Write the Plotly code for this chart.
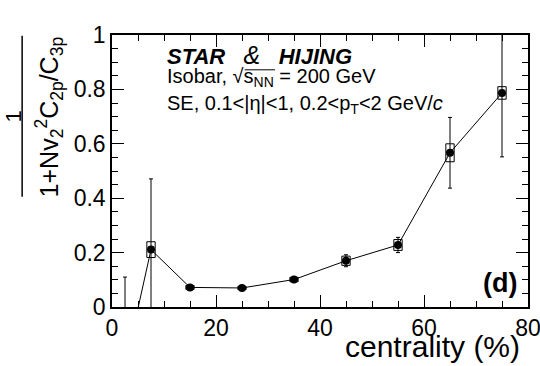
import plotly.graph_objects as go

# centrality bins (%) and ratio values
centrality = [2.5, 7.5, 15, 25, 35, 45, 55, 65, 75]
ratio = [-0.22, 0.211, 0.072, 0.070, 0.101, 0.170, 0.228, 0.567, 0.787]
stat_err = [0.33, 0.26, 0.005, 0.004, 0.006, 0.022, 0.028, 0.13, 0.235]
sys_err = [0.03, 0.029, 0.007, 0.006, 0.008, 0.017, 0.020, 0.033, 0.023]
sys_halfwidth = 0.8

x_ticks = [0, 20, 40, 60, 80]
y_ticks = [0, 0.2, 0.4, 0.6, 0.8, 1]
y_ticktext = ["0", "0.2", "0.4", "0.6", "0.8", "1"]

FONT = "Liberation Sans, Arial, sans-serif"

fig = go.Figure()

fig.add_trace(go.Scatter(
    x=centrality, y=ratio,
    mode="lines+markers",
    line=dict(color="black", width=1),
    marker=dict(color="black", size=8, symbol="circle"),
    error_y=dict(type="data", array=stat_err, color="black", thickness=1, width=2),
    showlegend=False,
))

# systematic boxes
for c, v, s in zip(centrality, ratio, sys_err):
    fig.add_shape(type="rect", xref="x", yref="y",
                  x0=c - sys_halfwidth, x1=c + sys_halfwidth, y0=v - s, y1=v + s,
                  line=dict(color="black", width=1), layer="above")

axis_common = dict(
    showline=True, linecolor="black", linewidth=1.5, mirror="ticks",
    ticks="inside", ticklen=12, tickcolor="black", tickwidth=1.2,
    showgrid=False, zeroline=False, automargin=False, ticklabeloverflow="allow",
    tickfont=dict(family=FONT, size=23, color="black"),
)

fig.update_xaxes(range=[0, 80], tickvals=x_ticks,
                 minor=dict(dtick=5, ticks="inside", ticklen=6, tickcolor="black", tickwidth=1.2),
                 **axis_common)
fig.update_yaxes(range=[0, 1], tickvals=y_ticks, ticktext=y_ticktext,
                 minor=dict(dtick=0.05, ticks="inside", ticklen=6, tickcolor="black", tickwidth=1.2),
                 **axis_common)

# y title as a fraction
fig.add_annotation(xref="paper", yref="paper", x=-0.236, y=0.70, text="1",
                   textangle=-90, showarrow=False, xanchor="center", yanchor="middle",
                   font=dict(family=FONT, size=22, color="black"))
fig.add_shape(type="line", xref="paper", yref="paper", x0=-0.216, x1=-0.216,
              y0=0.405, y1=0.997, line=dict(color="black", width=1.5))
fig.add_annotation(xref="paper", yref="paper", x=-0.20, y=0.70,
                   text="1+Nv<sub>2</sub><sup>2</sup>C<sub>2p</sub>/C<sub>3p</sub>",
                   textangle=-90, showarrow=False, xanchor="left", yanchor="middle",
                   font=dict(family=FONT, size=25, color="black"))

# x title
fig.add_annotation(xref="paper", yref="paper", x=0.985, y=-0.145, text="centrality (%)",
                   showarrow=False, xanchor="right", yanchor="middle",
                   font=dict(family=FONT, size=30, color="black"))

# labels inside the frame
fig.add_annotation(xref="paper", yref="paper", x=0.127, y=0.926,
                   text="<b><i>STAR</i></b>&nbsp;&nbsp;&nbsp;<span style='font-size:25px'><i>&amp;</i></span>"
                        "&nbsp;&nbsp;&nbsp;<b><i>HIJING</i></b>",
                   showarrow=False, xanchor="left", yanchor="middle",
                   font=dict(family=FONT, size=22, color="black"))
fig.add_annotation(xref="paper", yref="paper", x=0.127, y=0.845,
                   text="Isobar, √s<sub>NN</sub> = 200 GeV",
                   showarrow=False, xanchor="left", yanchor="middle",
                   font=dict(family=FONT, size=20, color="black"))
# bar of the square root over s_NN
fig.add_shape(type="line", xref="paper", yref="paper", x0=0.319, x1=0.392,
              y0=0.872, y1=0.872, line=dict(color="black", width=1))
fig.add_annotation(xref="paper", yref="paper", x=0.127, y=0.745,
                   text="SE, 0.1<|η|<1, 0.2<p<sub>T</sub><2 GeV/<i>c</i>",
                   showarrow=False, xanchor="left", yanchor="middle",
                   font=dict(family=FONT, size=20, color="black"))
fig.add_annotation(xref="paper", yref="paper", x=0.978, y=0.087, text="<b>(d)</b>",
                   showarrow=False, xanchor="right", yanchor="middle",
                   font=dict(family=FONT, size=27, color="black"))

fig.update_layout(
    width=540, height=366, autosize=False,
    margin=dict(l=112, r=12, t=35, b=59),
    paper_bgcolor="white", plot_bgcolor="white",
    font=dict(family=FONT, color="black"),
)

# drop the default page margin / scrollbars, then redraw at the fixed size
fix_page = (
    "document.documentElement.style.overflow='hidden';"
    "document.body.style.margin='0';document.body.style.overflow='hidden';"
    "var gd=document.getElementById('{plot_id}');"
    "var lay=Object.assign({}, gd.layout, {autosize:false, width:540, height:366});"
    "Plotly.newPlot(gd, gd.data, lay, {displayModeBar:false, responsive:false});"
)

fig.write_html("out.html", post_script=fix_page,
               config={"responsive": False, "displayModeBar": False})
